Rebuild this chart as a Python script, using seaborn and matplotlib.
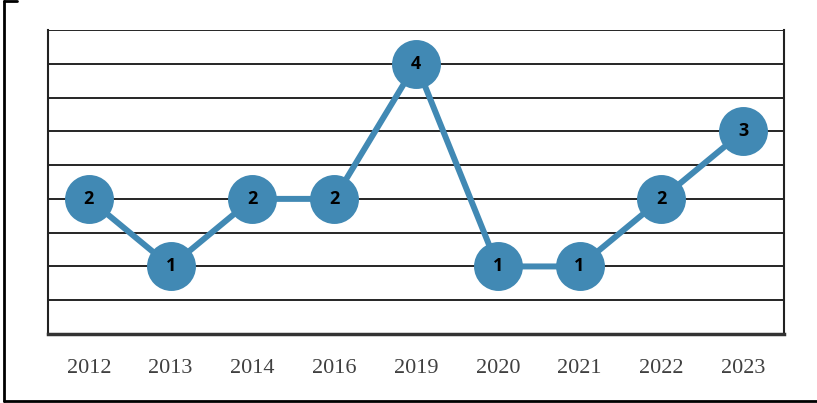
import matplotlib
matplotlib.use('Agg')
import matplotlib.pyplot as plt
import seaborn as sns
import numpy as np
from matplotlib.lines import Line2D

years = ['2012', '2013', '2014', '2016', '2019', '2020', '2021', '2022', '2023']
counts = [2, 1, 2, 2, 4, 1, 1, 2, 3]

blue = '#4189B4'

sns.set_style('white')
fig = plt.figure(figsize=(8.17, 4.03), dpi=100)
ax = fig.add_axes([48 / 817, 1 - 334 / 403, 736 / 817, 304 / 403])

sns.pointplot(x=years, y=counts, color=blue, markersize=32, linewidth=4.3,
              ax=ax, zorder=3)

for i, v in enumerate(counts):
    ax.text(i, v, str(v), ha='center', va='center', fontsize=13,
            fontweight='bold', family='Open Sans', color='black', zorder=5)

ax.set_xlim(-0.5, len(years) - 0.5)
ax.set_ylim(0, 4.5)
ax.set_yticks(np.arange(0, 4.51, 0.5))
ax.set_yticklabels([])
ax.yaxis.grid(True, color='black', linewidth=1.2)
ax.set_axisbelow(True)
ax.tick_params(axis='both', length=0)
ax.tick_params(axis='x', pad=18)
for lbl in ax.get_xticklabels():
    lbl.set_fontfamily('Liberation Serif')
    lbl.set_fontsize(16)
    lbl.set_color('#404040')

ax.spines['top'].set_visible(False)
for s in ['left', 'right']:
    ax.spines[s].set_color('#222222')
    ax.spines[s].set_linewidth(1.5)
ax.spines['bottom'].set_color('#333333')
ax.spines['bottom'].set_linewidth(2.5)
ax.set_xlabel('')
ax.set_ylabel('')

# outer frame
W, H = 817, 403
fig.add_artist(Line2D([4 / W, 4 / W], [1 - 1 / H, 1 - 401 / H], transform=fig.transFigure,
                      color='black', linewidth=2))
fig.add_artist(Line2D([4 / W, 1.0], [1 - 401 / H, 1 - 401 / H], transform=fig.transFigure,
                      color='black', linewidth=2))
fig.add_artist(Line2D([4 / W, 17 / W], [1 - 1 / H, 1 - 1 / H], transform=fig.transFigure,
                      color='black', linewidth=2))

fig.savefig('out.png', dpi=100)
